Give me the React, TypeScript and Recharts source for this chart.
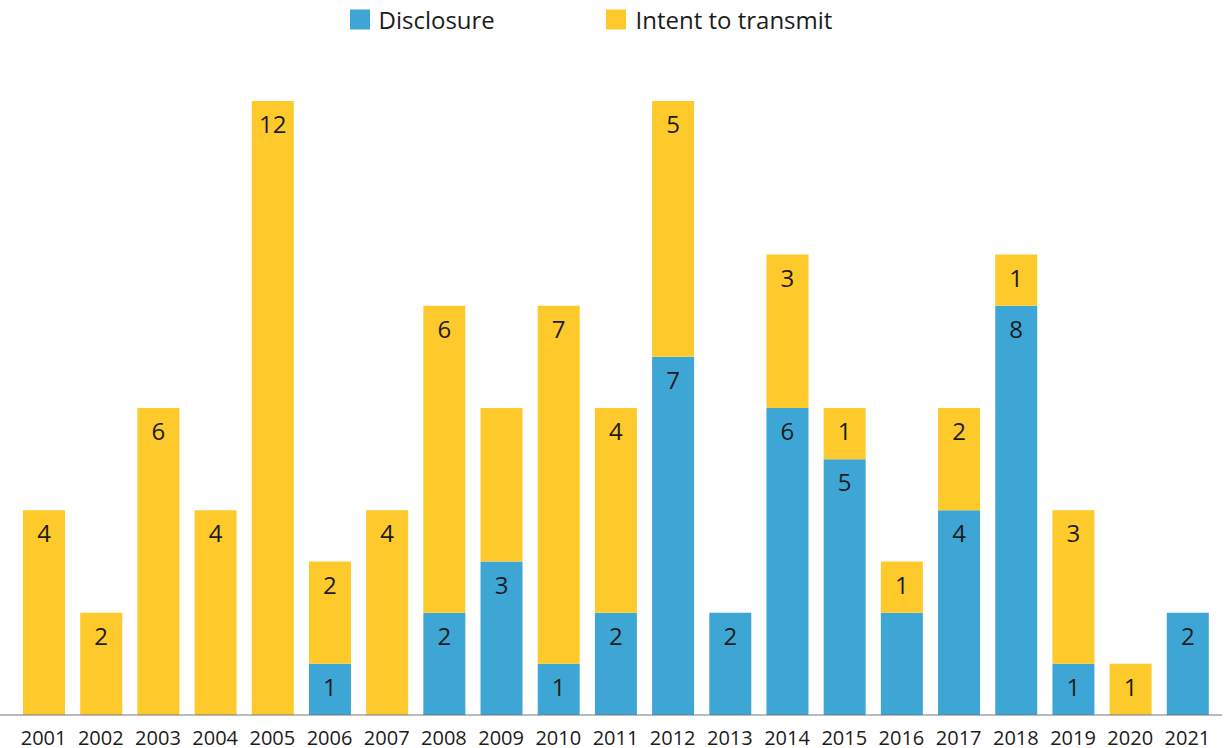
import React from 'react';
import { BarChart, Bar, XAxis, YAxis, LabelList, Legend } from 'recharts';

// Yearly counts, one entry per year
const YEARS = [
  '2001', '2002', '2003', '2004', '2005', '2006', '2007', '2008', '2009', '2010', '2011',
  '2012', '2013', '2014', '2015', '2016', '2017', '2018', '2019', '2020', '2021',
];
const DISCLOSURE = [0, 0, 0, 0, 0, 1, 0, 2, 3, 1, 2, 7, 2, 6, 5, 2, 4, 8, 1, 0, 2];
const INTENT = [4, 2, 6, 4, 12, 2, 4, 6, 3, 7, 4, 5, 0, 3, 1, 1, 2, 1, 3, 1, 0];

// Segments printed without a value label
const UNLABELED_DISCLOSURE = ['2016'];
const UNLABELED_INTENT = ['2009'];

const BLUE = '#3ea6d5';
const YELLOW = '#fec92a';
const TEXT = '#1c1c1c';
const AXIS = '#6f7983';
const FONT = '"Open Sans", "Noto Sans", sans-serif';

const SERIES = [
  { key: 'disclosure', name: 'Disclosure', color: BLUE, swatchX: 350, textX: 378.5 },
  { key: 'intent', name: 'Intent to transmit', color: YELLOW, swatchX: 606, textX: 635.5 },
];

// Label fields carry the segment value, or null where no label is printed
const rows = YEARS.map((year, i) => ({
  year,
  disclosure: DISCLOSURE[i],
  intent: INTENT[i],
  disclosureLabel: UNLABELED_DISCLOSURE.includes(year) || !DISCLOSURE[i] ? null : DISCLOSURE[i],
  intentLabel: UNLABELED_INTENT.includes(year) || !INTENT[i] ? null : INTENT[i],
}));

const segmentLabel = (props: any) => {
  const { value } = props;
  const box = props.viewBox ?? props;
  const { x, y, width } = box;
  if (value == null || value === 0 || value === '') return null;
  return (
    <text
      x={x + width / 2}
      y={y + 15}
      dy="0.71em"
      textAnchor="middle"
      fontSize={24}
      fontFamily={FONT}
      fill={TEXT}
    >
      {value}
    </text>
  );
};

const renderLegend = () => (
  <svg width={1225} height={40} style={{ display: 'block' }}>
    {SERIES.map((s) => (
      <g key={s.key}>
        <rect x={s.swatchX} y={9.5} width={20} height={20} fill={s.color} />
        <text x={s.textX} y={28.7} fontSize={24} fontFamily={FONT} fill={TEXT}>
          {s.name}
        </text>
      </g>
    ))}
  </svg>
);

export default function App() {
  return (
    <div style={{ position: 'absolute', left: 0, top: 0, width: 1225, height: 748, background: '#fff' }}>
      <BarChart
        width={1225}
        height={748}
        data={rows}
        margin={{ top: 61, right: 3, bottom: 0, left: 0 }}
        style={{ fontFamily: FONT }}
      >
        <Legend
          verticalAlign="top"
          height={40}
          wrapperStyle={{ top: 0, left: 0, width: 1225, height: 40 }}
          content={renderLegend}
        />
        <XAxis
          dataKey="year"
          interval={0}
          tickLine={false}
          tickMargin={10}
          height={33}
          padding={{ left: 15, right: 6 }}
          axisLine={{ stroke: AXIS, strokeWidth: 1 }}
          tick={{ fill: TEXT, fontSize: 20, fontFamily: FONT }}
        />
        <YAxis hide domain={[0, 12]} />
        <Bar dataKey="disclosure" stackId="a" fill={BLUE} barSize={42} isAnimationActive={false}>
          <LabelList dataKey="disclosureLabel" content={segmentLabel} />
        </Bar>
        <Bar dataKey="intent" stackId="a" fill={YELLOW} barSize={42} isAnimationActive={false}>
          <LabelList dataKey="intentLabel" content={segmentLabel} />
        </Bar>
      </BarChart>
    </div>
  );
}
